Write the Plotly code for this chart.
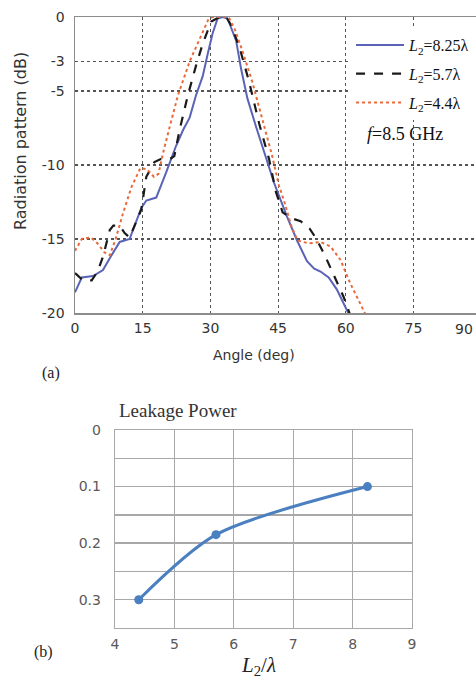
import plotly.graph_objects as go

W, H = 476, 681

# ---- (a) radiation pattern data ----
angle_825 = [0, 1.5, 4, 6.2, 7.7, 9.9, 12.1, 14.7, 15.8, 18, 20.2, 22.4, 24, 25.4, 26.8, 28.3, 29.4, 30.5,
             31.6, 32.7, 33.8, 35.7, 36.8, 38.2, 40.1, 42, 44.1, 47, 49.2, 51.4, 53, 54.4, 56.2, 58, 60.2, 61.5]
db_825 = [-18.6, -17.6, -17.5, -17.1, -16.3, -15.2, -15.0, -12.9, -12.4, -12.2, -10.5, -8.7, -7.6, -6.8, -5.3, -4.0,
          -2.5, -1.1, -0.1, 0, -0.1, -1.6, -3.5, -5.5, -7.4, -9.2, -11.2, -13.5, -15.1, -16.5, -17.0, -17.2, -17.6,
          -18.4, -19.8, -20.6]

angle_57 = [0, 1.8, 3.7, 5, 6.2, 7.7, 8.5, 9.9, 11, 12.1, 14.7, 15.8, 17.6, 19, 21, 22, 23.2, 25, 26.8, 28.3,
            30.2, 32, 33.5, 34.5, 36.4, 38.6, 40.8, 43, 44.5, 46, 48, 50, 52, 53.5, 55.5, 57.5, 59.5, 60.7, 61.5]
db_57 = [-17.3, -17.8, -17.8, -17.2, -16.2, -14.4, -14.1, -14.1, -14.6, -14.9, -13.0, -10.8, -9.8, -9.6, -9.6,
         -9.4, -7.6, -5.3, -3.3, -1.8, -0.3, 0, 0, -0.5, -2.0, -4.4, -7.2, -9.6, -11.8, -13.2, -13.6, -13.8, -14.3,
         -15.0, -16.2, -17.5, -18.9, -19.9, -20.6]

angle_44 = [0, 1.5, 3.5, 5, 6.5, 7.7, 9, 10.6, 12.5, 14.5, 16, 17.5, 18.5, 19.5, 21, 22.8, 25.4, 27.5, 29.5,
            30.5, 33.5, 34.2, 35.5, 37.1, 39.3, 41.5, 43.7, 45.2, 46.5, 48, 49.3, 51.8, 54.4, 56.6, 58.8, 61,
            63.2, 64.5, 65.5]
db_44 = [-15.8, -15.0, -14.9, -15.3, -15.9, -16.1, -15.0, -13.3, -11.5, -10.2, -10.3, -10.8, -10.6, -9.2, -7.4,
         -5.3, -3.0, -1.6, -0.2, 0, 0, -0.1, -0.9, -2.3, -4.4, -6.9, -9.4, -11.4, -12.6, -14.2, -15.1, -15.3,
         -15.2, -15.5, -16.4, -18.0, -19.3, -20.1, -20.8]

names_a = ["<i>L</i><sub>2</sub>=8.25λ", "<i>L</i><sub>2</sub>=5.7λ", "<i>L</i><sub>2</sub>=4.4λ"]
xticks_a = [0, 15, 30, 45, 60, 75]
yticks_a = [0, -3, -5, -10, -15, -20]
yticktext_a = ["0", "-3", "-5", "-10", "-15", "-20"]

# ---- (b) leakage power data ----
l2_ratio = [4.4, 5.7, 8.25]
leakage = [0.30, 0.185, 0.10]
yticks_b = [0, 0.05, 0.1, 0.15, 0.2, 0.25, 0.3, 0.35]
yticktext_b = ["0", "", "0.1", "", "0.2", "", "0.3", ""]

SANS = "DejaVu Sans"
SERIF = "Liberation Serif"

fig = go.Figure()
fig.add_trace(go.Scatter(x=angle_825, y=db_825, mode="lines", name=names_a[0], legendgroup="a",
                         line=dict(color="#5a63b6", width=2), xaxis="x", yaxis="y"))
fig.add_trace(go.Scatter(x=angle_57, y=db_57, mode="lines", name=names_a[1], legendgroup="b",
                         line=dict(color="#1a1a1a", width=2.2, dash="dash"), xaxis="x", yaxis="y"))
fig.add_trace(go.Scatter(x=angle_44, y=db_44, mode="lines", name=names_a[2], legendgroup="c",
                         line=dict(color="#e86a3a", width=2, dash="dot"), xaxis="x", yaxis="y"))
fig.add_trace(go.Scatter(x=l2_ratio, y=leakage, mode="lines+markers", showlegend=False,
                         line=dict(color="#4a7fc0", width=3, shape="spline", smoothing=0.8),
                         marker=dict(color="#4a7fc0", size=9), xaxis="x2", yaxis="y2"))

def py(p):
    return 1 - p / H

grid_a = dict(showgrid=True, gridcolor="#555555", gridwidth=1.2, griddash="dot", zeroline=False,
              showline=True, linecolor="#8c8c8c", linewidth=1.5, ticks="", automargin=False,
              tickfont=dict(family=SANS, size=14, color="#333333"))
grid_b = dict(showgrid=True, gridcolor="#a8a8a8", gridwidth=1.3, zeroline=False, automargin=False,
              showline=True, linecolor="#a8a8a8", linewidth=1.3, mirror=True, ticks="",
              tickfont=dict(family=SANS, size=14, color="#595959"))

fig.update_layout(
    width=W, height=H, margin=dict(l=0, r=0, t=0, b=0, pad=0, autoexpand=False),
    paper_bgcolor="white", plot_bgcolor="white",
    xaxis=dict(domain=[75 / W, 1.0], range=[0, 88.85], tickvals=xticks_a, anchor="y", mirror=True,
               ticklabelstandoff=2, **grid_a),
    yaxis=dict(domain=[py(313), py(17)], range=[-20, 0], tickvals=yticks_a, ticktext=yticktext_a,
               anchor="x", ticklabelstandoff=6, **grid_a),
    xaxis2=dict(domain=[115 / W, 412 / W], range=[4, 9], dtick=1, anchor="y2", ticklabelstandoff=3, **grid_b),
    yaxis2=dict(domain=[py(628), py(430)], range=[0.35, 0], tickvals=yticks_b, ticktext=yticktext_b,
                anchor="x2", ticklabelstandoff=10, **grid_b),
    legend=dict(x=0.998, xanchor="right", y=py(28), yanchor="top", bgcolor="white", borderwidth=0,
                font=dict(family=SERIF, size=16, color="#111111"), itemwidth=48, tracegroupgap=5),
    showlegend=True,
)

ann = [
    dict(text="Radiation pattern (dB)", x=20 / W, y=py(141), textangle=-90,
         font=dict(family=SANS, size=16, color="#333333")),
    dict(text="Angle (deg)", x=254 / W, y=py(355), font=dict(family=SANS, size=14, color="#333333")),
    dict(text="90", x=464 / W, y=py(329), font=dict(family=SANS, size=14, color="#333333")),
    dict(text="(a)", x=51 / W, y=py(373), font=dict(family=SERIF, size=16, color="#222222")),
    dict(text="(b)", x=43 / W, y=py(652), font=dict(family=SERIF, size=16, color="#222222")),
    dict(text="<i>f</i>=8.5 GHz", x=405 / W, y=py(134), font=dict(family=SERIF, size=18, color="#111111")),
    dict(text="Leakage Power", x=117 / W, y=py(410), xanchor="left",
         font=dict(family=SERIF, size=19, color="#333333")),
    dict(text="<i>L</i><sub>2</sub>/<i>λ</i>", x=258 / W, y=py(666),
         font=dict(family=SERIF, size=21, color="#222222")),
]
for a in ann:
    a.setdefault("xanchor", "center")
    a.update(xref="paper", yref="paper", showarrow=False, yanchor="middle")
    fig.add_annotation(**a)

fig.write_html("out.html", config={"displayModeBar": False, "staticPlot": True},
               post_script="document.body.style.margin='0';document.body.style.padding='0';"
                           "document.body.style.overflow='hidden';"
                           "document.documentElement.style.overflow='hidden';")
